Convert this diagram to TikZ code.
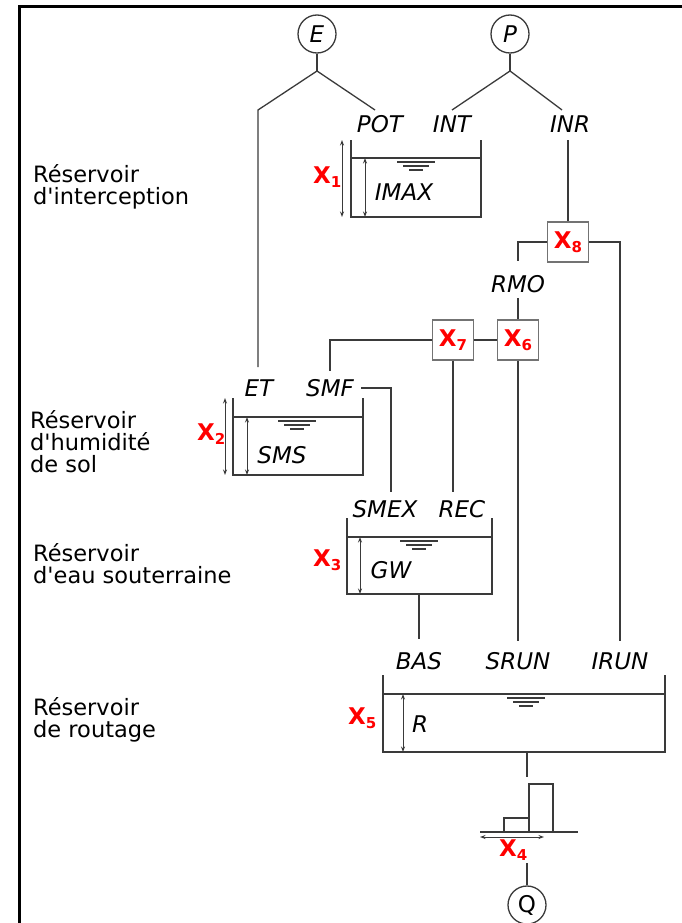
\documentclass[tikz,border=0pt]{standalone}
\usepackage{fontspec}
\setmainfont{DejaVu Sans}
\usetikzlibrary{arrows.meta}
\definecolor{ln}{HTML}{3A3A3A}
\tikzset{
 ln/.style={draw=ln, line width=1.3pt},
 var/.style={font=\fontsize{23}{23}\selectfont\itshape, inner sep=0pt, anchor=base},
 side/.style={font=\fontsize{22.5}{22}\selectfont, align=left, inner sep=0pt, anchor=base west},
 pbox/.style={draw=black!55, line width=1.3pt, minimum width=41pt, minimum height=40pt, inner sep=0pt, fill=white},
 inp/.style={circle, draw=ln, line width=1.3pt, minimum size=38pt, inner sep=0pt, font=\fontsize{23}{23}\selectfont},
 dimarrow/.style={ln, line width=0.9pt, {Stealth[length=5.5pt,width=4pt]}-{Stealth[length=5.5pt,width=4pt]}},
 xl/.style={inner sep=0pt, anchor=base west, text=red, font=\fontsize{23}{23}\selectfont\bfseries},
 xb/.style={pbox, text=red, font=\fontsize{23}{23}\selectfont\bfseries},
}
\newcommand{\xs}[1]{X\raisebox{-4pt}{\fontsize{15}{15}\selectfont #1}}
\newcommand{\wlevel}[2]{%
 \draw[ln] (#1-19,#2+4) -- (#1+19,#2+4);
 \draw[ln] (#1-13,#2+8) -- (#1+13,#2+8);
 \draw[ln] (#1-7,#2+12) -- (#1+7,#2+12);}
\newcommand{\tank}[5]{%
 \draw[ln] (#1,#3) -- (#1,#4) -- (#2,#4) -- (#2,#3);
 \draw[ln] (#1,#5) -- (#2,#5);}
\begin{document}
\begin{tikzpicture}[x=1pt,y=-1pt]
\useasboundingbox (0,0) rectangle (682,923);
\draw[line width=3pt] (19,923) -- (19,7) -- (682,7);

% inputs
\node[inp] (E) at (317,34) {\itshape E};
\node[inp] (P) at (510,34) {\itshape P};
\node[inp] (Q) at (527,905) {Q};
\coordinate (eb) at (317,71);
\coordinate (pb) at (510,71);

% labels
\node[var] (POT) at (380,132) {POT};
\node[var] (INT) at (452,132) {INT};
\node[var] (INR) at (570,132) {INR};
\node[var] (IMAX) at (404,200) {IMAX};
\node[var] (RMO) at (518,292) {RMO};
\node[var] (ET) at (259,396) {ET};
\node[var] (SMF) at (330,396) {SMF};
\node[var] (SMS) at (282,463) {SMS};
\node[var] (SMEX) at (385,517) {SMEX};
\node[var] (REC) at (462,517) {REC};
\node[var] (GW) at (391,578) {GW};
\node[var] (BAS) at (419,669) {BAS};
\node[var] (SRUN) at (518,669) {SRUN};
\node[var] (IRUN) at (620,669) {IRUN};
\node[var] (R) at (420,732) {R};

% side texts (anchor = baseline of last line)
\node[side] (t1) at (33,204) {Réservoir\\d\textquotesingle interception};
\node[side] (t2) at (30,472) {Réservoir\\d\textquotesingle humidité\\de sol};
\node[side] (t3) at (33,583) {Réservoir\\d\textquotesingle eau souterraine};
\node[side] (t4) at (33,737) {Réservoir\\de routage};

% parameter labels
\node[xl] (x1) at (313,183) {\xs{1}};
\node[xl] (x2) at (197,440) {\xs{2}};
\node[xl] (x3) at (313,566) {\xs{3}};
\node[xl] (x5) at (348,724) {\xs{5}};
\node[xl] (x4) at (499,856) {\xs{4}};

% parameter boxes
\node[xb] (X8) at (568,242) {\xs{8}};
\node[xb] (X7) at (453,340) {\xs{7}};
\node[xb] (X6) at (518,340) {\xs{6}};

% coordinates
\coordinate (eL) at (258,110);
\coordinate (eLd) at (258,367);
\coordinate (eR) at (375,110);
\coordinate (pL) at (452,110);
\coordinate (pR) at (562,110);
\coordinate (inrd) at (568,140);
\coordinate (x8l) at (518,242);
\coordinate (rmoT) at (518,261);
\coordinate (rmoB) at (518,298);
\coordinate (x8r) at (620,242);
\coordinate (irunT) at (620,641);
\coordinate (x7l) at (330,340);
\coordinate (smfT) at (330,371);
\coordinate (smfR) at (361,388);
\coordinate (smfC) at (391,388);
\coordinate (smexT) at (391,492);
\coordinate (recT) at (453,492);
\coordinate (srunT) at (518,641);
\coordinate (gwB) at (419,594);
\coordinate (basT) at (419,639);
\coordinate (rB) at (527,752);
\coordinate (rBd) at (527,777);
\coordinate (qT) at (527,863);

% connectors
\draw[ln] (E) -- (eb);
\draw[ln] (eb) -- (eL) -- (eLd);
\draw[ln] (eb) -- (eR);
\draw[ln] (P) -- (pb);
\draw[ln] (pb) -- (pL);
\draw[ln] (pb) -- (pR);
\draw[ln] (inrd) -- (X8.north);
\draw[ln] (X8.west) -- (x8l) -- (rmoT);
\draw[ln] (rmoB) -- (X6.north);
\draw[ln] (X8.east) -- (x8r) -- (irunT);
\draw[ln] (X7.east) -- (X6.west);
\draw[ln] (X7.west) -- (x7l) -- (smfT);
\draw[ln] (smfR) -- (smfC) -- (smexT);
\draw[ln] (X7.south) -- (recT);
\draw[ln] (X6.south) -- (srunT);
\draw[ln] (gwB) -- (basT);
\draw[ln] (rB) -- (rBd);
\draw[ln] (qT) -- (Q.north);

% reservoirs
\tank{351}{481}{140}{217}{158}
\wlevel{416}{158}
\draw[dimarrow] (342,140) -- (342,217);
\draw[dimarrow] (365,158) -- (365,217);

\tank{233}{363}{398}{475}{417}
\wlevel{297}{417}
\draw[dimarrow] (225,398) -- (225,475);
\draw[dimarrow] (247,417) -- (247,475);

\tank{347}{492}{518}{594}{537}
\wlevel{419}{537}
\draw[dimarrow] (360,537) -- (360,594);

\tank{383}{665}{675}{752}{694}
\wlevel{526}{694}
\draw[dimarrow] (403,694) -- (403,752);

% unit hydrograph
\draw[ln] (480,832) -- (578,832);
\draw[ln] (504,832) -- (504,818) -- (529,818) -- (529,832);
\draw[ln] (529,818) -- (529,784) -- (553,784) -- (553,832);
\draw[dimarrow] (480,837) -- (544,837);
\end{tikzpicture}
\end{document}
